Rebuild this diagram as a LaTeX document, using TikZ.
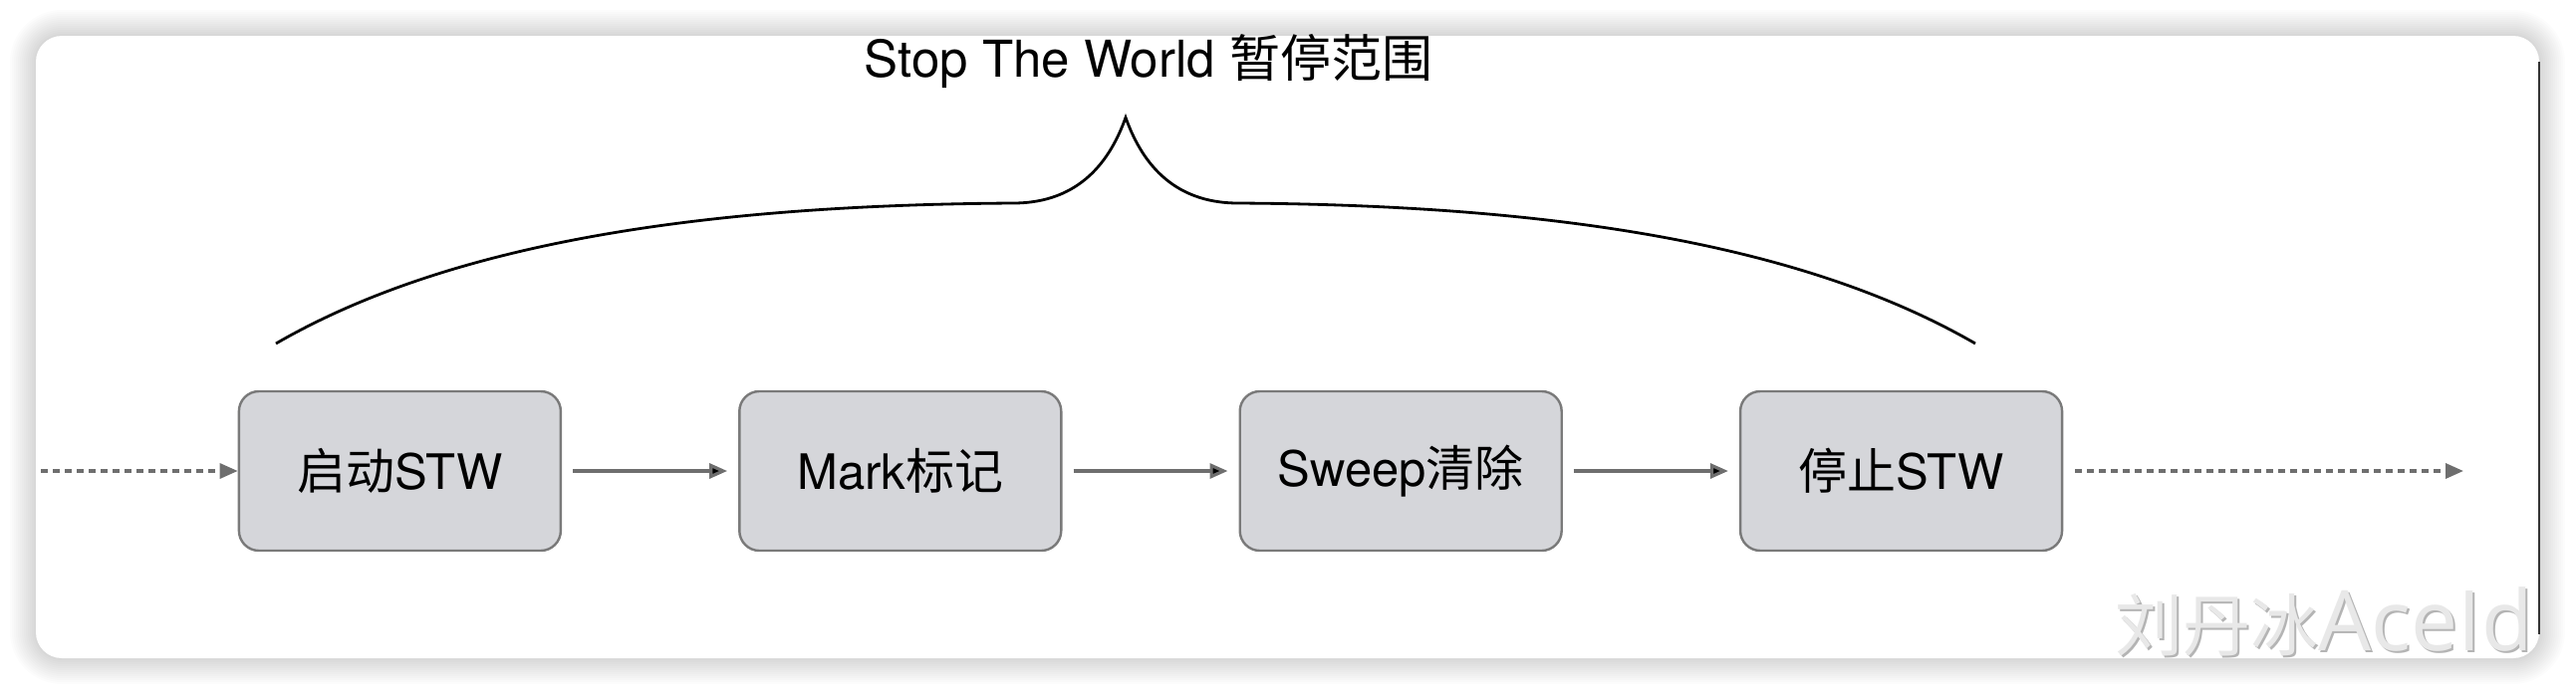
\documentclass[tikz,border=0pt]{standalone}
\usepackage{fontspec}
\setmainfont{TeX Gyre Heros}
\newfontfamily\cjk{Noto Sans CJK SC}
\newfontfamily\wmlatin{Open Sans}
\usetikzlibrary{matrix,arrows.meta}

\definecolor{boxfill}{HTML}{D5D6DA}
\definecolor{boxline}{HTML}{7A7A7A}
\definecolor{flowgray}{HTML}{6E6E6E}
\definecolor{wmgray}{HTML}{E8E8E8}
\definecolor{wmedge}{HTML}{B4B4B4}

\tikzset{
  stwbox/.style={draw=boxline,fill=boxfill,line width=1.2pt,rounded corners=10pt,
    minimum width=161.5pt,minimum height=80pt,inner sep=0pt,anchor=center,
    font=\fontsize{24.5}{28}\selectfont},
  flow/.style={draw=flowgray,line width=1.6pt,-{Triangle[length=9pt,width=7.5pt]}},
  flowdots/.style={flow,dash pattern=on 3.5pt off 2.5pt},
  brace/.style={draw=black,line width=1.4pt},
}

\begin{document}
\begin{tikzpicture}[x=0.5pt,y=-0.5pt]
  \useasboundingbox (0,0) rectangle (2586,698);

  % card with soft shadow
  \foreach \r [evaluate=\r as \rc using 13+\r] in {1,...,13}
    \fill[black,opacity=0.013,rounded corners=\rc pt]
      (36-2*\r,36-2*\r) rectangle (2549+2*\r,661+2*\r);
  \fill[white,rounded corners=13pt] (36,36) rectangle (2549,661);
  \draw[black!80,line width=1pt] (2549,62) -- (2549,637);

  \matrix (m) at (1155,473) [matrix of nodes,column sep=88.5pt,nodes={stwbox}]
  {
     {\cjk 启动}STW & Mark{\cjk 标记} & Sweep{\cjk 清除} & {\cjk 停止}STW \\
  };
  \path[flow,shorten >=5.5pt,shorten <=5.5pt]
    (m-1-1) edge (m-1-2)
    (m-1-2) edge (m-1-3)
    (m-1-3) edge (m-1-4);

  \coordinate (in) at (41,473);
  \coordinate (out) at (2473,473);
  \draw[flowdots] (in) -- (m-1-1);
  \draw[flowdots,shorten <=6pt] (m-1-4) -- (out);

  % brace over the pause
  \coordinate (bl) at (277,345);
  \coordinate (bml) at (1017,204);
  \coordinate (tip) at (1130,118);
  \coordinate (bmr) at (1243,204);
  \coordinate (br) at (1983,345);
  \draw[brace] (bl) .. controls (450,245) and (700,206) .. (bml)
    .. controls (1085,204) and (1115,160) .. (tip)
    .. controls (1145,160) and (1175,204) .. (bmr)
    .. controls (1560,206) and (1810,245) .. (br);

  \node (title) at (1153,62) [font=\fontsize{25.5}{28}\selectfont]
    {Stop The World {\cjk 暂停范围}};

  % watermark
  \node (wmshade) at (2125,655) [anchor=base west,inner sep=0pt,text=wmedge]
    {{\cjk\fontsize{34}{36}\selectfont 刘丹冰}{\wmlatin\fontsize{42}{44}\selectfont AceId}};
  \node (wm) at (2123,653) [anchor=base west,inner sep=0pt,text=wmgray]
    {{\cjk\fontsize{34}{36}\selectfont 刘丹冰}{\wmlatin\fontsize{42}{44}\selectfont AceId}};
\end{tikzpicture}
\end{document}
